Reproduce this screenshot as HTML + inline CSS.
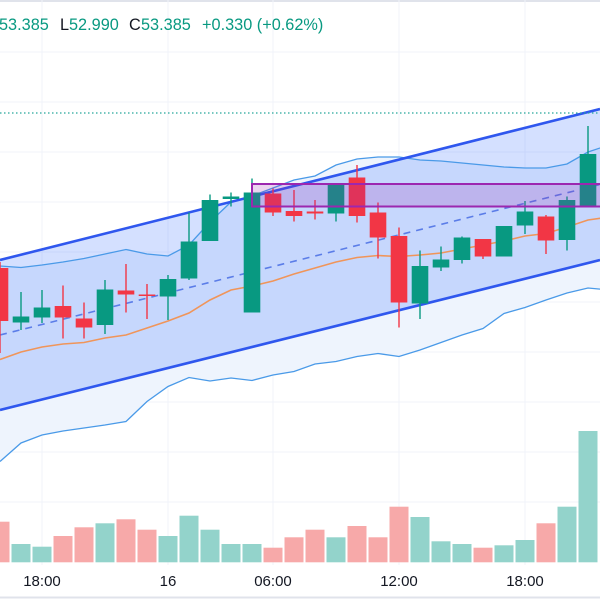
<!DOCTYPE html>
<html><head><meta charset="utf-8">
<style>
html,body{margin:0;padding:0;background:#fff;width:600px;height:600px;overflow:hidden}
svg{display:block}
text{font-family:"Liberation Sans",sans-serif}
</style></head>
<body>
<svg id="chart" width="600" height="600" viewBox="0 0 600 600" xmlns="http://www.w3.org/2000/svg">
  <rect x="0" y="0" width="600" height="600" fill="#ffffff"/>
  <rect x="0" y="0" width="600" height="2" fill="#e0e3eb"/>
  <g id="grid"></g>
  <g id="fills"></g>
  <g id="lines"></g>
  <g id="volume"></g>
  <g id="candles"></g>
  <g id="overlay"></g>
  <g id="header">
    <text x="-1" y="30" font-size="16.3" fill="#089981">53.385</text>
    <text x="60" y="30" font-size="16.3" fill="#131722">L</text>
    <text x="69" y="30" font-size="16.3" fill="#089981">52.990</text>
    <text x="129" y="30" font-size="16.3" fill="#131722">C</text>
    <text x="141" y="30" font-size="16.3" fill="#089981">53.385</text>
    <text x="202" y="30" font-size="16.3" fill="#089981">+0.330 (+0.62%)</text>
  </g>
  <g id="xaxis"></g>
</svg>
<script>
const opens  = [53.157,53.048,53.058,53.081,53.056,53.043,53.112,53.104,53.100,53.136,53.211,53.295,53.068,53.306,53.271,53.270,53.266,53.338,53.268,53.221,53.086,53.158,53.173,53.215,53.180,53.242,53.260,53.213,53.282];
const highs  = [53.169,53.109,53.113,53.122,53.088,53.133,53.165,53.125,53.143,53.268,53.304,53.308,53.336,53.316,53.313,53.293,53.327,53.363,53.288,53.238,53.192,53.200,53.220,53.215,53.241,53.291,53.263,53.300,53.441];
const lows   = [52.987,53.033,53.047,53.016,53.016,53.025,53.068,53.055,53.053,53.133,53.211,53.280,53.068,53.261,53.250,53.254,53.250,53.248,53.176,53.038,53.055,53.151,53.166,53.175,53.180,53.225,53.185,53.192,53.282];
const closes = [53.051,53.060,53.078,53.058,53.038,53.114,53.104,53.101,53.135,53.210,53.293,53.300,53.308,53.268,53.261,53.266,53.324,53.261,53.218,53.088,53.161,53.174,53.218,53.180,53.241,53.270,53.212,53.293,53.385];
const volumes = [406,183,156,263,350,390,430,326,263,466,326,183,183,146,250,326,250,363,250,556,453,210,183,146,170,223,390,556,1313];
const bbUpper = [53.161,53.158,53.163,53.169,53.176,53.185,53.194,53.185,53.181,53.203,53.249,53.289,53.301,53.317,53.333,53.341,53.363,53.375,53.379,53.379,53.373,53.371,53.367,53.363,53.359,53.357,53.357,53.365,53.389,53.403];
const bbLower = [52.770,52.807,52.823,52.831,52.837,52.843,52.850,52.890,52.920,52.938,52.931,52.937,52.932,52.943,52.950,52.965,52.970,52.980,52.986,52.980,52.993,53.008,53.023,53.036,53.066,53.078,53.093,53.107,53.117,53.113];
const maLine  = [52.974,52.989,52.999,53.005,53.008,53.017,53.023,53.037,53.051,53.067,53.093,53.113,53.121,53.131,53.145,53.157,53.169,53.178,53.182,53.180,53.183,53.187,53.195,53.203,53.211,53.221,53.226,53.239,53.253,53.259];
const channelUpper = [53.173,53.475];
const channelLower = [52.873,53.173];
const channelIdx = [0,28.571];
const boxRange = [53.325,53.280];
const boxStartIdx = 12;
const lastPriceLine = 53.467;
const xTickIdx = [2,8,13,19,25];
const xTickLabels = ["18:00","16","06:00","12:00","18:00"];
const gridPrices = [53.589,53.489,53.389,53.289,53.189,53.089,52.989,52.889,52.789,52.689];

const NS = "http://www.w3.org/2000/svg";
const STEP = 21;
function xS(i){ return i*STEP; }
function yS(p){ return 154 - (p - 53.385)*500; }
function vS(v){ return 562.3 - v*0.1; }
function mk(tag, attrs, parent){
  const e = document.createElementNS(NS, tag);
  for (const k in attrs) e.setAttribute(k, attrs[k]);
  parent.appendChild(e);
  return e;
}
const G = id => document.getElementById(id);

gridPrices.forEach(p => {
  const l = mk('line',{x1:0,x2:600,y1:yS(p),y2:yS(p),stroke:'#f0f3fa','stroke-width':1}, G('grid'));
  
  
});
xTickIdx.forEach(i => {
  const l = mk('line',{x1:xS(i),x2:xS(i),y1:0,y2:565,stroke:'#f0f3fa','stroke-width':1}, G('grid'));
  
  
});

function pts(arr){ return arr.map((p,i)=>xS(i)+','+yS(p)); }
const bbPoly = pts(bbUpper).concat(pts(bbLower).reverse()).join(' ');
const bbf = mk('polygon',{points:bbPoly,fill:'#eef4fd'}, G('fills'));


const chPoly = [
  xS(channelIdx[0])+','+yS(channelUpper[0]), xS(channelIdx[1])+','+yS(channelUpper[1]),
  xS(channelIdx[1])+','+yS(channelLower[1]), xS(channelIdx[0])+','+yS(channelLower[0])
].join(' ');
const chf = mk('polygon',{points:chPoly,fill:'rgba(41,98,255,0.2)'}, G('fills'));



const bu = mk('polyline',{points:pts(bbUpper).join(' '),fill:'none',stroke:'#4a9ae8','stroke-width':1.3}, G('lines'));


const bl = mk('polyline',{points:pts(bbLower).join(' '),fill:'none',stroke:'#4a9ae8','stroke-width':1.3}, G('lines'));


const ma = mk('polyline',{points:pts(maLine).join(' '),fill:'none',stroke:'#f0955a','stroke-width':1.6}, G('lines'));


const midStart = (channelUpper[0]+channelLower[0])/2, midEnd = (channelUpper[1]+channelLower[1])/2;
const cm = mk('line',{x1:xS(channelIdx[0]),y1:yS(midStart),x2:xS(channelIdx[1]),y2:yS(midEnd),stroke:'#5b7de8','stroke-width':1.6,'stroke-dasharray':'7 6'}, G('lines'));


const cu = mk('line',{x1:xS(channelIdx[0]),y1:yS(channelUpper[0]),x2:xS(channelIdx[1]),y2:yS(channelUpper[1]),stroke:'#2f57ee','stroke-width':2.6}, G('lines'));


const cl = mk('line',{x1:xS(channelIdx[0]),y1:yS(channelLower[0]),x2:xS(channelIdx[1]),y2:yS(channelLower[1]),stroke:'#2f57ee','stroke-width':2.6}, G('lines'));



volumes.forEach((v,i) => {
  const up = closes[i] >= opens[i];
  const r = mk('rect',{x:xS(i)-9.5,y:vS(v),width:19,height:562.3-vS(v),fill:up?'#93d3cb':'#f7a9a9'}, G('volume'));
  
  
});

opens.forEach((o,i) => {
  const c = closes[i], up = c >= o, col = up ? '#089981' : '#f23645';
  const g = mk('g',{}, G('candles'));
  
  
  mk('line',{x1:xS(i),x2:xS(i),y1:yS(highs[i]),y2:yS(lows[i]),stroke:col,'stroke-width':1.4}, g);
  const top = yS(Math.max(o,c)), bot = yS(Math.min(o,c));
  mk('rect',{x:xS(i)-8.3,y:top,width:16.6,height:Math.max(1.5,bot-top),fill:col}, g);
});

const box = mk('rect',{x:xS(boxStartIdx),y:yS(boxRange[0]),width:600-xS(boxStartIdx)+4,height:yS(boxRange[1])-yS(boxRange[0]),fill:'rgba(156,39,176,0.2)',stroke:'#9c27b0','stroke-width':2}, G('overlay'));


const lp = mk('line',{x1:0,x2:600,y1:yS(lastPriceLine),y2:yS(lastPriceLine),stroke:'#26a69a','stroke-width':1.2,'stroke-dasharray':'1.5 2.5'}, G('overlay'));



const ax = mk('line',{x1:0,x2:600,y1:597.5,y2:597.5,stroke:'#e0e3eb','stroke-width':2}, G('xaxis'));


xTickIdx.forEach((idx,k) => {
  const t = mk('text',{x:xS(idx),y:586,'font-size':15,'text-anchor':'middle',fill:'#131722'}, G('xaxis'));
  t.textContent = xTickLabels[k];
  
  
});
</script>
</body></html>
